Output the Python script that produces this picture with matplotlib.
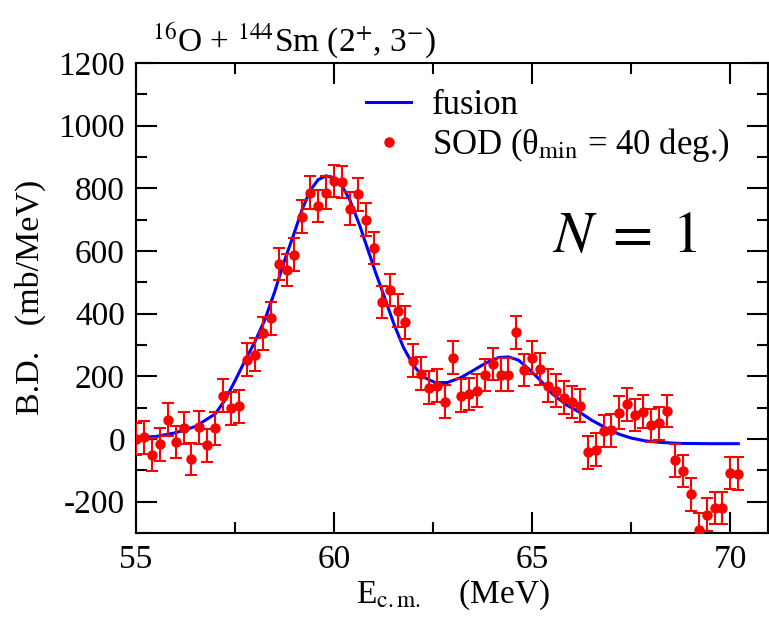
import matplotlib
matplotlib.use("Agg")
import matplotlib.pyplot as plt

plt.rcParams['font.family'] = ['Liberation Serif', 'DejaVu Serif']
plt.rcParams['mathtext.fontset'] = 'stix'
plt.rcParams['axes.unicode_minus'] = False

# Energias (MeV) de los puntos SOD
e_sod = [55.0, 55.2, 55.4, 55.6, 55.8, 56.0, 56.2, 56.4, 56.6, 56.8,
         57.0, 57.2, 57.4, 57.6, 57.8, 58.0, 58.2, 58.4, 58.6, 58.8,
         59.0, 59.2, 59.4, 59.6, 59.8, 60.0, 60.2, 60.4, 60.6, 60.8,
         61.0, 61.2, 61.4, 61.6, 61.8, 62.0, 62.2, 62.4, 62.6, 62.8,
         63.0, 63.2, 63.4, 63.6, 63.8, 64.0, 64.2, 64.4, 64.6, 64.8,
         65.0, 65.2, 65.4, 65.6, 65.8, 66.0, 66.2, 66.4, 66.6, 66.8,
         67.0, 67.2, 67.4, 67.6, 67.8, 68.0, 68.2, 68.4, 68.6, 68.8,
         69.0, 69.2, 69.4, 69.6, 69.8, 70.0, 70.2]
# Distribucion de barrera (mb/MeV)
bd_sod = [0, 5, -50, -17, 62, -9, 35, -64, 37, -20,
          34, 138, 98, 104, 253, 269, 337, 385, 559, 540,
          588, 710, 786, 743, 786, 823, 820, 735, 781, 700,
          609, 437, 475, 410, 372, 250, 209, 164, 170, 119,
          260, 138, 143, 154, 204, 239, 205, 205, 340, 220,
          260, 223, 170, 154, 132, 118, 106, -43, -34, 26,
          28, 84, 111, 77, 87, 44, 50, 90, -68, -102,
          -177, -289, -241, -220, -220, -108, -111]
err_sod = 52

# Curva de fusion
e_fus = [55.0, 55.5, 56.0, 56.5, 57.0, 57.25, 57.5, 57.75, 58.0, 58.25,
         58.5, 58.75, 59.0, 59.2, 59.4, 59.6, 59.8, 60.0, 60.2, 60.4,
         60.65, 60.85, 61.05, 61.25, 61.5, 61.75, 62.0, 62.25, 62.55, 62.85,
         63.2, 63.5, 63.85, 64.15, 64.4, 64.65, 64.9, 65.2, 65.5, 65.85,
         66.2, 66.5, 66.85, 67.2, 67.5, 67.85, 68.25, 68.7, 69.5, 70.2]
bd_fus = [4, 8, 20, 40, 80, 125, 186, 250, 310, 380,
          470, 570, 660, 735, 794, 828, 840, 832, 808, 762,
          680, 605, 530, 460, 370, 292, 235, 198, 180, 180,
          196, 218, 244, 260, 262, 252, 225, 188, 145, 110,
          85, 60, 36, 15, 3, -6, -11, -14, -15, -15]

fig = plt.figure(figsize=(7.69, 6.17), dpi=100)
ax = fig.add_axes([136 / 769, 1 - 533 / 617, (768 - 136) / 769, (533 - 63) / 617])

ax.plot(e_fus, bd_fus, color='#0000ff', lw=2.2, label='fusion', zorder=2)
ax.errorbar(e_sod, bd_sod, yerr=err_sod, fmt='none', ecolor='#ff0000',
            elinewidth=1.5, capsize=4, capthick=1.5, zorder=3)
ax.plot(e_sod, bd_sod, 'o', color='#ff0000', ms=7.5, mew=0, zorder=4,
        label='SOD (θ$_{\\rm min}$ = 40 deg.)')

ax.set_xlim(55, 70.95)
ax.set_ylim(-300, 1200)
ax.set_xticks([55, 60, 65, 70])
ax.set_xticks([57.5, 62.5, 67.5], minor=True)
ax.set_yticks(range(-200, 1201, 200))
ax.set_yticks(range(-300, 1201, 100), minor=True)
ax.tick_params(which='both', direction='in', top=True, right=True,
               labelsize=24, width=1.5)
ax.tick_params(which='major', length=15, pad=8)
ax.tick_params(which='minor', length=8)
for s in ax.spines.values():
    s.set_linewidth(1.5)

ax.legend(loc='upper left', bbox_to_anchor=(366 / 769, 1 - 89 / 617),
          bbox_transform=fig.transFigure, frameon=False, fontsize=25,
          handlelength=1.3, handletextpad=0.6, labelspacing=0.12,
          borderaxespad=0, borderpad=0)

fig.text(152 / 769, 1 - 52 / 617,
         '$^{16}$O + $^{144}$Sm (2$^{+}$, 3$^{-}$)', fontsize=24,
         ha='left', va='baseline')
fig.text(625 / 769, 1 - 238 / 617, '$N\\;=\\;1$', fontsize=42,
         ha='center', va='center')
fig.text(453 / 769, 1 - 603 / 617, 'E$_{\\rm c.m.}$    (MeV)', fontsize=24,
         ha='center', va='baseline')
fig.text(30 / 769, 1 - 297 / 617, 'B.D.   (mb/MeV)', fontsize=24.5,
         rotation=90, ha='center', va='center')

fig.savefig('out.png', dpi=100)
